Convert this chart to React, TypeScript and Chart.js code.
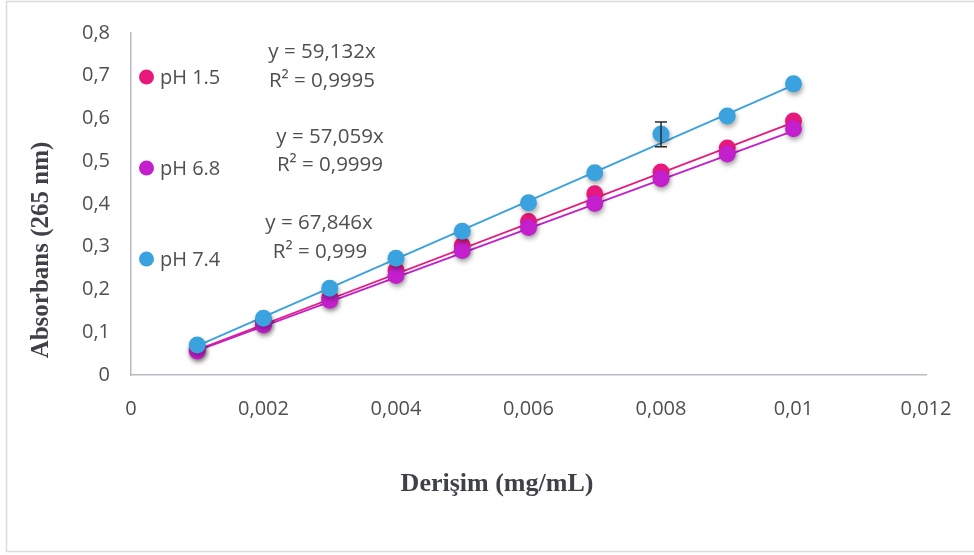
import React, { useEffect, useRef } from "react";
import { Chart, registerables } from "chart.js";

Chart.register(...registerables);

const concentrations = [0.001, 0.002, 0.003, 0.004, 0.005, 0.006, 0.007, 0.008, 0.009, 0.01];
const ph15 = [0.061, 0.124, 0.182, 0.245, 0.303, 0.359, 0.424, 0.475, 0.531, 0.594];
const ph68 = [0.056, 0.117, 0.175, 0.233, 0.291, 0.345, 0.401, 0.459, 0.517, 0.576];
const ph74 = [0.07, 0.133, 0.203, 0.273, 0.336, 0.403, 0.473, 0.564, 0.606, 0.681];

const seriesNames = ["pH 1.5", "pH 6.8", "pH 7.4"];
const seriesColors = ["#E8197D", "#C41FCC", "#3AA2DE"];

// trend line endpoints (x, y)
const trendX = [0.001, 0.01];
const trend15 = [0.059, 0.591];
const trend68 = [0.057, 0.571];
const trend74 = [0.068, 0.678];

const equations = ["y = 59,132x", "y = 57,059x", "y = 67,846x"];
const rSquared = ["R² = 0,9995", "R² = 0,9999", "R² = 0,999"];

// error bar on pH 7.4 at x = 0.008
const errX = 0.008;
const errLow = 0.534;
const errHigh = 0.592;

const xTicks = [0, 0.002, 0.004, 0.006, 0.008, 0.01, 0.012];
const yTicks = [0, 0.1, 0.2, 0.3, 0.4, 0.5, 0.6, 0.7, 0.8];

const fmt = (v: number) => String(Number(v.toFixed(4))).replace(".", ",");

export default function App() {
  const ref = useRef<HTMLCanvasElement | null>(null);

  useEffect(() => {
    document.body.style.margin = "0";
    const canvas = ref.current;
    if (!canvas) return;

    const pts = (ys: number[]) => concentrations.map((x, i) => ({ x, y: ys[i] }));
    const tl = (ys: number[]) => trendX.map((x, i) => ({ x, y: ys[i] }));

    const sans = "'Open Sans', 'Noto Sans', sans-serif";
    const serif = "'Liberation Serif', 'DejaVu Serif', serif";
    const textColor = "#4f4f4f";

    const decor = {
      id: "decor",
      beforeDatasetDraw(chart: any, args: any) {
        const ctx = chart.ctx;
        ctx.save();
        if (args.index < 3) {
          ctx.shadowColor = "rgba(0,0,0,0.35)";
          ctx.shadowBlur = 5;
          ctx.shadowOffsetX = 1;
          ctx.shadowOffsetY = 3;
        }
      },
      afterDatasetDraw(chart: any) {
        chart.ctx.restore();
      },
      afterDraw(chart: any) {
        const ctx = chart.ctx;
        const xs = chart.scales.x;
        const ys = chart.scales.y;
        ctx.save();
        // outer border
        ctx.strokeStyle = "#dcdcdc";
        ctx.lineWidth = 1.5;
        ctx.beginPath();
        ctx.moveTo(980, 1.5);
        ctx.lineTo(6.5, 1.5);
        ctx.lineTo(6.5, 551.5);
        ctx.lineTo(980, 551.5);
        ctx.stroke();

        // error bar
        const ex = xs.getPixelForValue(errX);
        const y1 = ys.getPixelForValue(errHigh);
        const y2 = ys.getPixelForValue(errLow);
        ctx.strokeStyle = "#2b2b2b";
        ctx.lineWidth = 1.5;
        ctx.beginPath();
        ctx.moveTo(ex, y1);
        ctx.lineTo(ex, y2);
        ctx.moveTo(ex - 6, y1);
        ctx.lineTo(ex + 6, y1);
        ctx.moveTo(ex - 6, y2);
        ctx.lineTo(ex + 6, y2);
        ctx.stroke();

        // legend
        const legendY = [77, 168, 259];
        ctx.font = `20px ${sans}`;
        ctx.textBaseline = "middle";
        ctx.textAlign = "left";
        seriesNames.forEach((n, i) => {
          ctx.fillStyle = seriesColors[i];
          ctx.beginPath();
          ctx.arc(146.5, legendY[i], 7.5, 0, Math.PI * 2);
          ctx.fill();
          ctx.fillStyle = textColor;
          ctx.fillText(n, 160, legendY[i] + 1);
        });

        // equations
        const eqPos = [
          [322, 52, 322, 81],
          [330, 137, 330, 165],
          [319, 223, 320, 252],
        ];
        ctx.textAlign = "center";
        ctx.font = `20.5px ${sans}`;
        equations.forEach((e, i) => {
          const p = eqPos[i];
          ctx.fillText(e, p[0], p[1]);
          ctx.fillText(rSquared[i], p[2], p[3]);
        });

        // axis titles
        ctx.fillStyle = "#404048";
        ctx.font = `bold 26px ${serif}`;
        ctx.fillText("Derişim (mg/mL)", 497, 484);
        ctx.save();
        ctx.translate(42, 250);
        ctx.rotate(-Math.PI / 2);
        ctx.font = `bold 25px ${serif}`;
        ctx.fillText("Absorbans (265 nm)", 0, 0);
        ctx.restore();
        ctx.restore();
      },
    };

    const pointDs = (i: number, ys: number[]) => ({
      type: "scatter" as const,
      label: seriesNames[i],
      data: pts(ys),
      backgroundColor: seriesColors[i],
      borderColor: seriesColors[i],
      pointRadius: 8.5,
      pointBorderWidth: 0,
      showLine: false,
      order: 3 - i,
    });
    const lineDs = (i: number, ys: number[]) => ({
      type: "line" as const,
      label: seriesNames[i] + " trend",
      data: tl(ys),
      borderColor: seriesColors[i],
      borderWidth: 1.8,
      pointRadius: 0,
      fill: false,
      order: 10 - i,
    });

    const chart = new Chart(canvas, {
      type: "scatter",
      data: {
        datasets: [
          pointDs(0, ph15),
          pointDs(1, ph68),
          pointDs(2, ph74),
          lineDs(0, trend15),
          lineDs(1, trend68),
          lineDs(2, trend74),
        ] as any,
      },
      options: {
        animation: false,
        responsive: false,
        layout: { padding: { top: 32, right: 48, left: 0, bottom: 0 } },
        plugins: { legend: { display: false }, tooltip: { enabled: false } },
        scales: {
          x: {
            type: "linear",
            min: 0,
            max: 0.012,
            afterBuildTicks: (s: any) => {
              s.ticks = xTicks.map((v) => ({ value: v }));
            },
            afterFit: (s: any) => {
              s.height = 180;
            },
            grid: { display: false, drawTicks: false },
            border: { display: true, color: "#b9b9c3", width: 1.5 },
            ticks: {
              padding: 22,
              color: textColor,
              font: { family: sans, size: 20 },
              callback: (v: any) => fmt(Number(v)),
              maxRotation: 0,
            },
          },
          y: {
            type: "linear",
            min: 0,
            max: 0.8,
            afterBuildTicks: (s: any) => {
              s.ticks = yTicks.map((v) => ({ value: v }));
            },
            afterFit: (s: any) => {
              s.width = 131;
            },
            grid: { display: false, drawTicks: false },
            border: { display: true, color: "#b9b9c3", width: 1.5 },
            ticks: {
              padding: 21,
              color: textColor,
              font: { family: sans, size: 20 },
              callback: (v: any) => fmt(Number(v)),
            },
          },
        },
      },
      plugins: [decor],
    });

    return () => chart.destroy();
  }, []);

  return (
    <div style={{ width: 974, height: 555, background: "#fff" }}>
      <canvas ref={ref} width={974} height={555} style={{ display: "block" }} />
    </div>
  );
}
